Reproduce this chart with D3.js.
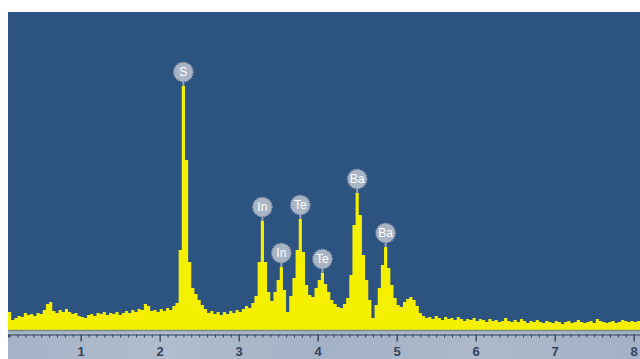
<!DOCTYPE html>
<html>
<head>
<meta charset="utf-8">
<script src="https://cdn.jsdelivr.net/npm/d3@7"></script>
<style>
  html, body { margin: 0; padding: 0; background: #ffffff; }
  svg { display: block; }
</style>
</head>
<body>
<svg id="chart" width="640" height="359"></svg>
<script>
// EDS spectrum: counts per 0.04 keV channel, first channel starting at 0.08 keV
const channelStart = 0.08;
const channelWidth = 0.04;
const counts = [
  180, 100, 120, 140, 130, 170, 150, 160, 140, 170,
  160, 200, 260, 280, 190, 170, 200, 180, 210, 180,
  160, 170, 140, 130, 120, 150, 160, 140, 170, 160,
  180, 150, 170, 160, 180, 150, 170, 190, 170, 200,
  180, 210, 200, 260, 240, 190, 200, 180, 210, 190,
  220, 200, 240, 270, 800, 2440, 1700, 680, 420, 360,
  300, 250, 210, 170, 190, 160, 180, 150, 180, 160,
  190, 170, 200, 180, 210, 240, 220, 270, 340, 680,
  1090, 680, 380, 290, 380, 500, 630, 400, 180, 340,
  520, 800, 1110, 780, 450, 350, 330, 420, 500, 570,
  460, 380, 300, 260, 230, 220, 260, 320, 550, 1050,
  1370, 1150, 750, 500, 300, 120, 250, 420, 650, 830,
  620, 450, 320, 250, 230, 280, 310, 330, 300, 240,
  170, 140, 120, 130, 110, 140, 120, 100, 130, 110,
  120, 100, 130, 110, 90, 110, 100, 120, 90, 110,
  100, 80, 110, 90, 100, 80, 90, 120, 90, 80,
  100, 80, 110, 90, 70, 90, 80, 100, 80, 70,
  90, 80, 70, 90, 80, 60, 80, 90, 70, 80,
  100, 80, 70, 80, 90, 70, 110, 90, 80, 70,
  80, 90, 70, 80, 100, 90, 80, 90, 80, 90,
  80
];

// Peak identifications: element symbol and the channel holding the peak maximum
const peakElements = ["S", "In", "In", "Te", "Te", "Ba", "Ba"];
const peakChannels = [55, 80, 86, 92, 99, 110, 119];

// Energy axis ticks (keV)
const majorTicks = [1, 2, 3, 4, 5, 6, 7, 8];
const minorStep = 0.1;

const svg = d3.select("#chart");
const plot = { left: 8, top: 12, right: 640, bottom: 330 };

const x = d3.scaleLinear().domain([0.08, 8.08]).range([plot.left, plot.right]);
const y = d3.scaleLinear().domain([0, 3180]).range([plot.bottom, plot.top]);

const defs = svg.append("defs");
defs.append("clipPath").attr("id", "plotClip")
  .append("rect")
  .attr("x", plot.left).attr("y", plot.top)
  .attr("width", plot.right - plot.left).attr("height", plot.bottom - plot.top);

const strip = defs.append("linearGradient").attr("id", "stripGrad")
  .attr("x1", 0).attr("x2", 1).attr("y1", 0).attr("y2", 0);
strip.append("stop").attr("offset", "0%").attr("stop-color", "#a4b3c7");
strip.append("stop").attr("offset", "25%").attr("stop-color", "#b1bdcd");
strip.append("stop").attr("offset", "50%").attr("stop-color", "#a3b2c6");
strip.append("stop").attr("offset", "75%").attr("stop-color", "#adb9ca");
strip.append("stop").attr("offset", "100%").attr("stop-color", "#a2b1c5");

// Plot background
svg.append("rect")
  .attr("x", plot.left).attr("y", plot.top)
  .attr("width", plot.right - plot.left).attr("height", plot.bottom - plot.top)
  .attr("fill", "#2d5380");

// Spectrum as a filled step histogram
const pts = counts.map((c, i) => ({ e: channelStart + i * channelWidth, c }));
pts.push({ e: channelStart + counts.length * channelWidth, c: counts[counts.length - 1] });

const area = d3.area()
  .curve(d3.curveStepAfter)
  .x(d => x(d.e))
  .y0(y(0))
  .y1(d => y(d.c));

svg.append("path")
  .datum(pts)
  .attr("clip-path", "url(#plotClip)")
  .attr("fill", "#f4f000")
  .attr("d", area);

// Axis strip under the spectrum
svg.append("rect")
  .attr("x", plot.left).attr("y", plot.bottom)
  .attr("width", plot.right - plot.left).attr("height", 359 - plot.bottom)
  .attr("fill", "url(#stripGrad)");
svg.append("line")
  .attr("x1", plot.left).attr("x2", plot.right)
  .attr("y1", plot.bottom + 0.5).attr("y2", plot.bottom + 0.5)
  .attr("stroke", "#7d8a86").attr("stroke-width", 1.5);

// Minor ticks every 0.1 keV
const minorTicks = d3.range(0.1, 8.08, minorStep).filter(v => Math.abs(v - Math.round(v)) > 1e-6);
const minorAxis = d3.axisBottom(x).tickValues(minorTicks).tickSize(3).tickFormat("");
const gMinor = svg.append("g").attr("transform", `translate(0,${plot.bottom + 4.5})`).call(minorAxis);
gMinor.select(".domain").attr("stroke", "#2f3e55").attr("stroke-width", 1.2);
gMinor.selectAll(".tick line").attr("stroke", "#2f3e55").attr("stroke-width", 1);

// Major ticks with keV labels
const majorAxis = d3.axisBottom(x).tickValues(majorTicks).tickSize(7).tickPadding(5).tickFormat(d3.format("d"));
const gMajor = svg.append("g").attr("transform", `translate(0,${plot.bottom + 4.5})`).call(majorAxis);
gMajor.select(".domain").remove();
gMajor.selectAll(".tick line").attr("stroke", "#2f3e55").attr("stroke-width", 1.3);
gMajor.selectAll(".tick text")
  .attr("fill", "#34445c")
  .attr("font-family", "'Liberation Sans', Arial, sans-serif")
  .attr("font-size", 13)
  .attr("font-weight", "bold");

// Peak labels: grey badges joined to the peak tops
const labels = svg.append("g").attr("class", "peak-labels");
peakElements.forEach((el, k) => {
  const ch = peakChannels[k];
  const cx = x(channelStart + (ch + 0.5) * channelWidth);
  const top = y(counts[ch]);
  const cy = top - 14;
  labels.append("line")
    .attr("x1", cx).attr("x2", cx)
    .attr("y1", cy + 8).attr("y2", top)
    .attr("stroke", "#9aa6b7").attr("stroke-width", 2);
  labels.append("circle")
    .attr("cx", cx).attr("cy", cy).attr("r", 9.5)
    .attr("fill", "#a9b4c4")
    .attr("stroke", "#a2adbf").attr("stroke-width", 1.6)
    .attr("stroke-dasharray", "1.2,1.2");
  labels.append("text")
    .attr("x", cx).attr("y", cy + 4.3)
    .attr("text-anchor", "middle")
    .attr("font-family", "'Liberation Sans', Arial, sans-serif")
    .attr("font-size", 12)
    .attr("fill", "#ffffff")
    .text(el);
});
</script>
</body>
</html>
